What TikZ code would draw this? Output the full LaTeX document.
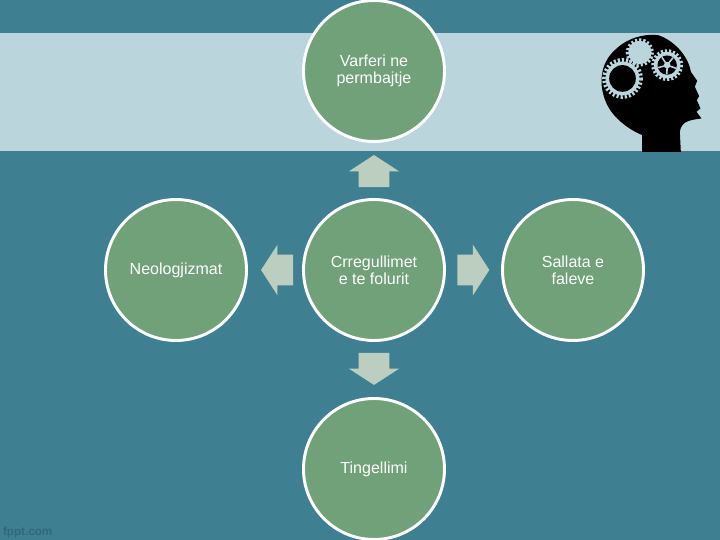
\documentclass[tikz,border=0pt]{standalone}
\usepackage{fontspec}
\setmainfont{Liberation Sans}
\usetikzlibrary{shapes.arrows}
\definecolor{slidebg}{HTML}{3E8091}
\definecolor{slideband}{HTML}{BBD5DC}
\definecolor{bubblefill}{HTML}{70A178}
\definecolor{arrowfill}{HTML}{BCCEC0}
\definecolor{logotext}{HTML}{2F6878}
\tikzset{
  topic-bubble/.style={circle, draw=white, fill=bubblefill, line width=2.1pt, minimum size=3.525cm,
    align=center, text=white, font=\fontsize{11.4}{12.2}\selectfont, inner sep=0pt},
  topic-arrow/.style={single arrow, draw=none, fill=arrowfill, minimum width=1.25cm, minimum height=0.8cm,
    single arrow head extend=0.25cm, single arrow tip angle=114, inner xsep=0pt, inner ysep=0.375cm, outer sep=0pt},
  gear-teeth/.style={draw=slideband, dash pattern=on 1.5pt off 1.4pt}
}
\begin{document}
\begin{tikzpicture}
  \useasboundingbox (0,0) rectangle (18,13.5);
  \fill[slidebg] (0,0) rectangle (18,13.5);
  \fill[slideband] (0,9.725) rectangle (18,12.675);
  % head with gears
  \begin{scope}[x=0.00833cm, y=-0.00833cm, shift={(1740,-1560)}]
    \fill[black] (187,395) -- (187,345) .. controls (150,330) and (100,295) .. (80,250)
      .. controls (55,195) and (60,130) .. (105,90) .. controls (140,55) and (190,40) .. (235,45)
      .. controls (280,60) and (325,105) .. (333,155) -- (352,182) -- (345,200) -- (358,228)
      -- (351,240) -- (362,265) -- (350,275) -- (365,295) .. controls (335,300) and (305,300) .. (300,335)
      -- (303,395) -- cycle;
    \draw[gear-teeth, line width=2.9pt] (128,175) circle (55);
    \fill[slideband] (128,175) circle (51);
    \fill[black] (128,175) circle (40);
    \draw[gear-teeth, line width=2.6pt] (180,97) circle (37);
    \fill[slideband] (180,97) circle (35);
    \draw[gear-teeth, line width=2.2pt] (262,135) circle (43);
    \fill[slideband] (262,135) circle (40);
    \fill[black] (262,135) circle (29);
    \foreach \a in {20,92,164,236,308} {
      \draw[slideband, line width=1.1pt] (262,135) -- ++(\a:28);
    }
    \fill[slideband] (262,135) circle (10);
  \end{scope}
  % bubbles
  \node[topic-bubble] (centre) at (9.35,6.75) {Crregullimet\\e te folurit};
  \node[topic-bubble] (content) at (9.35,11.725) {Varferi ne\\permbajtje};
  \node[topic-bubble] (neologism) at (4.4,6.75) {Neologjizmat};
  \node[topic-bubble] (salad) at (14.325,6.75) {Sallata e\\faleve};
  \node[topic-bubble] (clang) at (9.35,1.775) {Tingellimi};
  % arrows
  \node[topic-arrow, rotate=90] (arrowup) at (9.35,9.1) {};
  \node[topic-arrow, rotate=180] (arrowleft) at (7.05,6.75) {};
  \node[topic-arrow] (arrowright) at (11.71,6.75) {};
  \node[topic-arrow, rotate=270] (arrowdown) at (9.35,4.4) {};
  \node[text=logotext, font=\bfseries\fontsize{8.3}{10}\selectfont, anchor=west, inner sep=0pt] (logo) at (0.07,0.2) {fppt.com};
\end{tikzpicture}
\end{document}
